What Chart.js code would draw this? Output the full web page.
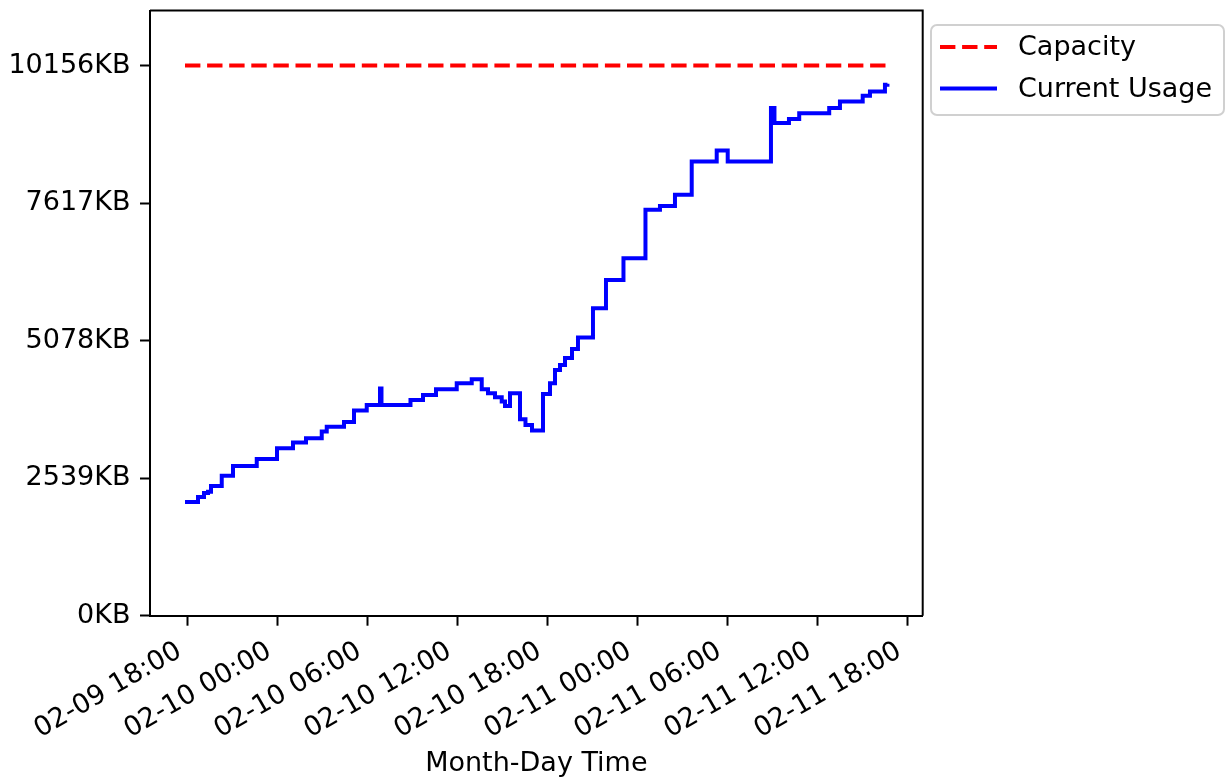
<!DOCTYPE html>
<html>
<head>
<meta charset="utf-8">
<script src="https://cdn.jsdelivr.net/npm/chart.js@4.4.0/dist/chart.umd.min.js"></script>
<style>
html,body{margin:0;padding:0;background:#fff;}
canvas{display:block;}
</style>
</head>
<body>
<canvas id="c" width="1228" height="780"></canvas>
<script>
// ---- data ----
const usageTimes = [
  '02-09 17:50','02-09 18:42','02-09 19:06','02-09 19:22','02-09 19:34','02-09 20:17','02-09 21:02','02-09 22:37','02-09 23:58',
  '02-10 01:02','02-10 01:54','02-10 02:57','02-10 03:17','02-10 04:26','02-10 05:06','02-10 05:57','02-10 06:50','02-10 06:56',
  '02-10 08:52','02-10 09:42','02-10 10:34','02-10 11:57','02-10 12:57','02-10 13:37','02-10 14:02','02-10 14:30','02-10 14:57',
  '02-10 15:10','02-10 15:30','02-10 16:10','02-10 16:32','02-10 16:58','02-10 17:42','02-10 18:10','02-10 18:30','02-10 18:50',
  '02-10 19:10','02-10 19:38','02-10 20:02','02-10 21:02','02-10 21:54','02-10 23:04',
  '02-11 00:32','02-11 01:30','02-11 02:30','02-11 03:37','02-11 05:17','02-11 06:01','02-11 08:54','02-11 09:08','02-11 10:06',
  '02-11 10:47','02-11 12:47','02-11 13:30','02-11 15:01','02-11 15:30','02-11 16:30','02-11 16:40'
];
const usageKB = [
  2100,2192,2266,2290,2395,2585,2764,2894,3091,
  3195,3276,3398,3490,3577,3789,3891,4195,3891,
  3983,4075,4181,4292,4365,4181,4107,4033,3952,
  3872,4107,3627,3521,3420,4094,4292,4537,4629,
  4759,4925,5137,5676,6199,6600,
  7492,7565,7769,8384,8587,8384,9370,9093,9167,
  9277,9370,9492,9597,9676,9800,9820
];
const capacityTimes = ['02-09 17:50', '02-11 16:40'];
const capacityKB = [10156, 10156];
const xTickLabels = ['02-09 18:00','02-10 00:00','02-10 06:00','02-10 12:00','02-10 18:00','02-11 00:00','02-11 06:00','02-11 12:00','02-11 18:00'];
const yTickValues = [0, 2539, 5078, 7617, 10156];
const yTickLabels = ['0KB','2539KB','5078KB','7617KB','10156KB'];
const xRange = ['02-09 15:30', '02-11 19:01'];
const yRange = [0, 11171.6];
const seriesNames = ['Capacity', 'Current Usage'];
const xTitle = 'Month-Day Time';

// minutes relative to the first tick label
function toMin(s) {
  const [md, hm] = s.split(' ');
  const [mo, d] = md.split('-').map(Number);
  const [h, m] = hm.split(':').map(Number);
  return Date.UTC(2000, mo - 1, d, h, m) / 60000;
}
const base = toMin(xTickLabels[0]);
const rel = s => toMin(s) - base;

const FONT = 'DejaVu Sans';
const FS = 27;
Chart.defaults.font.family = FONT;
Chart.defaults.font.size = FS;
Chart.defaults.color = '#000';

const framePlugin = {
  id: 'frame',
  afterDatasetsDraw(chart) {
    const {ctx, chartArea: a} = chart;
    ctx.save();
    ctx.strokeStyle = '#000';
    ctx.lineWidth = 2;
    ctx.beginPath();
    ctx.moveTo(a.left, a.top);
    ctx.lineTo(a.right, a.top);
    ctx.lineTo(a.right, a.bottom);
    ctx.stroke();
    ctx.restore();
  }
};

const legendPlugin = {
  id: 'mplLegend',
  afterDraw(chart) {
    const ctx = chart.ctx;
    ctx.save();
    ctx.beginPath();
    ctx.roundRect(931, 25, 293, 90, 6);
    ctx.fillStyle = 'rgba(255,255,255,0.8)';
    ctx.fill();
    ctx.strokeStyle = '#d0d0d0';
    ctx.lineWidth = 2;
    ctx.stroke();
    const rows = [47, 88.5];
    chart.data.datasets.forEach((ds, i) => {
      const ly = rows[i];
      ctx.beginPath();
      ctx.setLineDash(ds.borderDash || []);
      ctx.strokeStyle = ds.borderColor;
      ctx.lineWidth = ds.borderWidth;
      ctx.moveTo(940, ly);
      ctx.lineTo(997, ly);
      ctx.stroke();
      ctx.setLineDash([]);
      ctx.fillStyle = '#000';
      ctx.font = FS + 'px "' + FONT + '"';
      ctx.textAlign = 'left';
      ctx.textBaseline = 'middle';
      ctx.fillText(ds.label, 1018, ly + 1);
    });
    ctx.restore();
  }
};

new Chart(document.getElementById('c'), {
  type: 'line',
  data: {
    datasets: [
      {
        label: seriesNames[0],
        data: capacityTimes.map((t, i) => ({x: rel(t), y: capacityKB[i]})),
        borderColor: '#ff0000',
        borderWidth: 4,
        borderDash: [15.4, 6.7],
        pointRadius: 0,
        fill: false
      },
      {
        label: seriesNames[1],
        data: usageTimes.map((t, i) => ({x: rel(t), y: usageKB[i]})),
        borderColor: '#0000ff',
        borderWidth: 4,
        stepped: 'before',
        pointRadius: 0,
        fill: false
      }
    ]
  },
  options: {
    responsive: false,
    animation: false,
    devicePixelRatio: 1,
    layout: {padding: {top: 10.5, right: 305.3, left: 0, bottom: 0}},
    plugins: {legend: {display: false}, tooltip: {enabled: false}},
    scales: {
      x: {
        type: 'linear',
        bounds: 'data',
        min: rel(xRange[0]),
        max: rel(xRange[1]),
        afterBuildTicks: s => { s.ticks = xTickLabels.map(l => ({value: rel(l)})); },
        afterFit: s => { s.height = 164.3; s.paddingLeft = 0; s.paddingRight = 0; },
        ticks: {
          autoSkip: false,
          maxRotation: 30,
          minRotation: 30,
          padding: 9.5,
          labelOffset: -8,
          color: '#000',
          font: {size: FS},
          callback: (v, i) => xTickLabels[i]
        },
        grid: {drawOnChartArea: false, drawTicks: true, tickLength: 10, tickColor: '#000', tickWidth: 2},
        border: {display: true, color: '#000', width: 2},
        title: {display: true, text: xTitle, color: '#000', font: {size: FS}, padding: {top: 0, bottom: 0}}
      },
      y: {
        type: 'linear',
        bounds: 'data',
        min: yRange[0],
        max: yRange[1],
        afterBuildTicks: s => { s.ticks = yTickValues.map(v => ({value: v})); },
        afterFit: s => { s.width = 150; s.paddingTop = 0; s.paddingBottom = 0; },
        ticks: {
          padding: 9.5,
          color: '#000',
          font: {size: FS},
          callback: (v, i) => yTickLabels[i]
        },
        grid: {drawOnChartArea: false, drawTicks: true, tickLength: 10, tickColor: '#000', tickWidth: 2},
        border: {display: true, color: '#000', width: 2}
      }
    }
  },
  plugins: [framePlugin, legendPlugin]
});
</script>
</body>
</html>
